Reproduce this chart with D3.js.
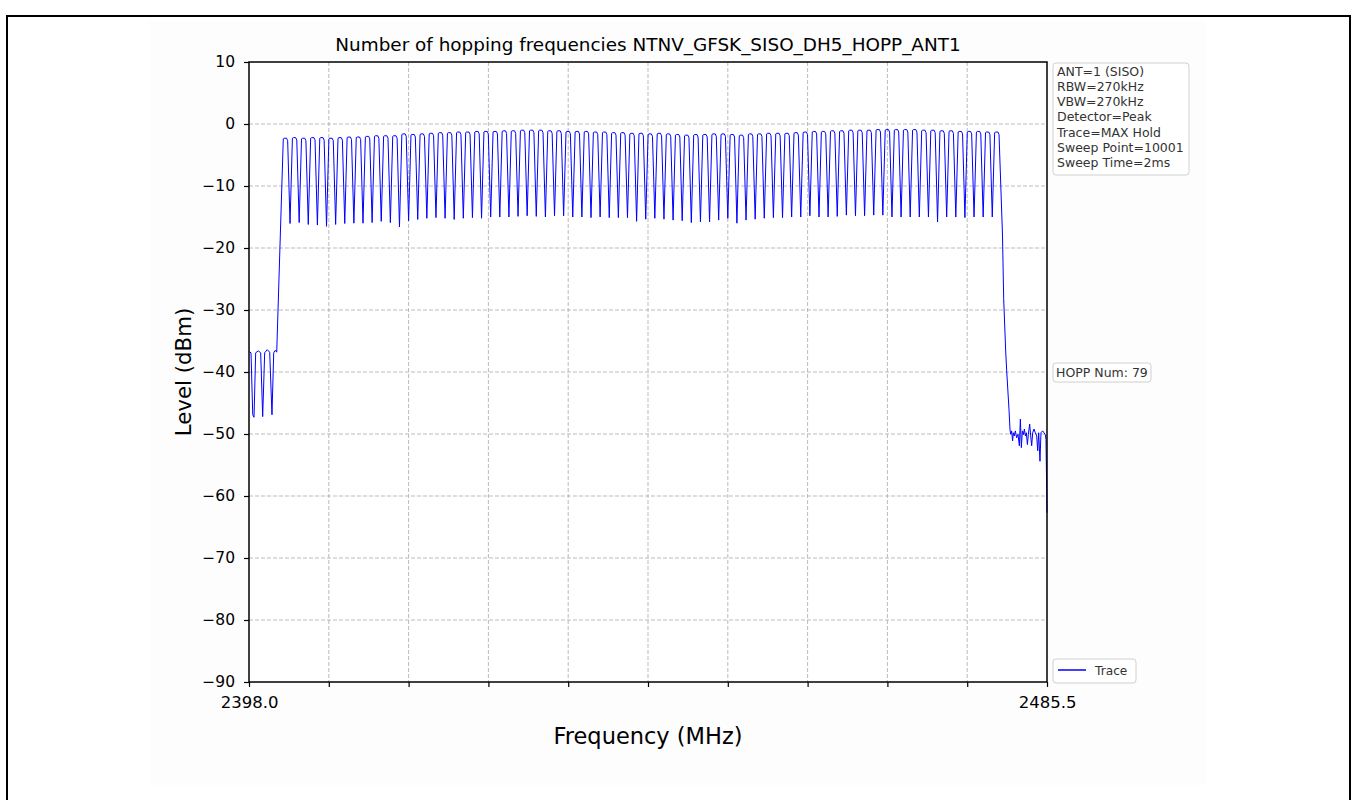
<!DOCTYPE html>
<html>
<head>
<meta charset="utf-8">
<script src="https://cdn.jsdelivr.net/npm/d3@7"></script>
<style>
  html, body { margin: 0; padding: 0; background: #fff; }
  svg { display: block; font-family: "DejaVu Sans", sans-serif; }
</style>
</head>
<body>
<div id="chart"></div>
<script>
// Hopping channels: 79 channels, 1 MHz spacing starting at 2402 MHz
const firstChannel = 2402;
const peakLevels = [
  -2.3, -2.2, -2.3, -2.2, -2.2, -2.3,
  -2.2, -2.1, -2.1, -2.0, -1.9, -1.9,
  -1.9, -1.6, -1.7, -1.6, -1.5, -1.4,
  -1.4, -1.3, -1.3, -1.2, -1.2, -1.2,
  -1.1, -1.1, -1.0, -1.0, -1.0, -1.1,
  -1.1, -1.2, -1.2, -1.2, -1.3, -1.3,
  -1.4, -1.4, -1.5, -1.5, -1.6, -1.5,
  -1.6, -1.7, -1.8, -1.7, -1.7, -1.6,
  -1.6, -1.7, -1.8, -1.6, -1.6, -1.5,
  -1.5, -1.5, -1.4, -1.3, -1.2, -1.2,
  -1.1, -1.1, -1.0, -1.0, -1.0, -0.9,
  -0.9, -0.9, -0.9, -0.9, -1.0, -1.0,
  -1.1, -1.1, -1.2, -1.2, -1.2, -1.3, -1.3
];
// Minimum between neighbouring channels
const dipLevels = [
  -16.05, -15.9, -16.2, -16.3, -16.5, -16.2, -16.05, -16.0, -16.0, -15.9, -15.7, -15.9, -16.6,
  -15.6, -15.4, -15.2, -15.1, -15.2, -15.4, -15.2, -15.1, -15.2, -15.0, -15.0, -15.0, -14.9,
  -14.8, -14.9, -15.0, -14.8, -14.8, -15.0, -15.0, -15.1, -15.0, -15.1, -15.1, -15.1, -15.7,
  -15.35, -15.2, -15.35, -15.5, -15.6, -15.9, -15.8, -15.8, -15.5, -15.2, -16.0, -15.5, -15.35,
  -15.2, -15.1, -15.1, -15.0, -15.0, -14.8, -15.0, -15.0, -14.9, -14.7, -14.8, -14.8, -14.7,
  -14.7, -15.0, -15.0, -15.0, -15.0, -15.0, -15.8, -15.0, -15.0, -15.1, -15.0, -15.0, -15.0
];
// Band edge below the first channel
const leftFreq = [2398.0, 2398.22, 2398.41, 2398.55, 2398.73, 2399.02, 2399.28, 2399.50,
  2399.72, 2400.0, 2400.27, 2400.52, 2400.71, 2400.88, 2401.04];
const leftLevel = [-36.7, -36.9, -46.9, -47.3, -36.9, -36.6, -36.9, -47.2,
  -36.9, -36.4, -36.8, -46.9, -36.9, -36.5, -36.8];
// Band edge above the last channel
const rightFreq = [2480.62, 2480.75, 2480.97, 2481.08, 2481.33, 2481.44, 2481.51, 2481.62,
  2481.73, 2481.81, 2481.92, 2482.03, 2482.17, 2482.32, 2482.47, 2482.58, 2482.69, 2482.80,
  2482.91, 2483.02, 2483.13, 2483.24, 2483.35, 2483.45, 2483.60, 2483.71, 2483.82, 2483.93,
  2484.07, 2484.22, 2484.37, 2484.48, 2484.59, 2484.73, 2484.84, 2485.02, 2485.17, 2485.31,
  2485.39, 2485.50];
const rightLevel = [-17.9, -28.2, -36.6, -39.8, -46.0, -49.2, -50.05, -49.5,
  -51.1, -49.8, -50.3, -49.5, -50.6, -50.05, -51.9, -47.6, -52.2, -49.5,
  -50.1, -49.2, -50.3, -49.8, -51.7, -50.1, -48.4, -50.3, -51.9, -49.8,
  -49.2, -49.8, -50.3, -52.7, -49.8, -54.4, -49.8, -49.5, -49.8, -50.1,
  -50.9, -62.7];

const xTickValues = [2398.0, 2406.75, 2415.5, 2424.25, 2433.0, 2441.75, 2450.5, 2459.25, 2468.0, 2476.75, 2485.5];
const xTickLabels = ['2398.0', '', '', '', '', '', '', '', '', '', '2485.5'];
const yTickValues = [10, 0, -10, -20, -30, -40, -50, -60, -70, -80, -90];
const infoLines = ['ANT=1 (SISO)', 'RBW=270kHz', 'VBW=270kHz', 'Detector=Peak',
  'Trace=MAX Hold', 'Sweep Point=10001', 'Sweep Time=2ms'];
const hoppNum = 79;

const W = 1352, H = 800;
const plot = { left: 249, right: 1047, top: 62, bottom: 682 };

const svg = d3.select('#chart').append('svg')
    .attr('width', W).attr('height', H);

// page frame + figure background
svg.append('rect').attr('x', 150).attr('y', 20).attr('width', 1056).attr('height', 765)
    .attr('fill', '#fdfdfd');
svg.append('path')
    .attr('d', `M7,${H} V16 H1350 V${H}`)
    .attr('fill', 'none').attr('stroke', '#000').attr('stroke-width', 2);

const x = d3.scaleLinear().domain([2398.0, 2485.5]).range([plot.left, plot.right]);
const y = d3.scaleLinear().domain([-90, 10]).range([plot.bottom, plot.top]);

svg.append('rect')
    .attr('x', plot.left).attr('y', plot.top)
    .attr('width', plot.right - plot.left).attr('height', plot.bottom - plot.top)
    .attr('fill', '#fff');

// Grid
const grid = svg.append('g').attr('stroke', '#aaa').attr('stroke-width', 0.8)
    .attr('stroke-dasharray', '4,2');
grid.selectAll('line.gx').data(xTickValues.slice(1, -1)).join('line')
    .attr('x1', d => x(d)).attr('x2', d => x(d))
    .attr('y1', plot.top).attr('y2', plot.bottom);
grid.selectAll('line.gy').data(yTickValues.slice(1, -1)).join('line')
    .attr('x1', plot.left).attr('x2', plot.right)
    .attr('y1', d => y(d)).attr('y2', d => y(d));

// Build the trace vertices
const trace = d3.zip(leftFreq, leftLevel);
peakLevels.forEach((p, k) => {
    const f = firstChannel + k;
    trace.push([f - 0.24, p - 0.1], [f - 0.14, p], [f + 0.12, p], [f + 0.24, p - 0.4]);
    if (k < dipLevels.length) trace.push([f + 0.5, dipLevels[k]]);
});
d3.zip(rightFreq, rightLevel).forEach(d => trace.push(d));

const line = d3.line().x(d => x(d[0])).y(d => y(d[1]));
svg.append('path')
    .datum(trace)
    .attr('fill', 'none')
    .attr('stroke', '#0000ff')
    .attr('stroke-width', 1)
    .attr('stroke-linejoin', 'round')
    .attr('d', line);

// Axes
const fmtMinus = d => String(d).replace('-', '\u2212');
const xAxis = svg.append('g')
    .attr('transform', `translate(0,${plot.bottom})`)
    .call(d3.axisBottom(x).tickValues(xTickValues)
        .tickFormat((d, i) => xTickLabels[i]).tickSize(5).tickPadding(9));
const yAxis = svg.append('g')
    .attr('transform', `translate(${plot.left},0)`)
    .call(d3.axisLeft(y).tickValues(yTickValues).tickFormat(fmtMinus).tickSize(5).tickPadding(9));
[xAxis, yAxis].forEach(a => {
    a.select('.domain').remove();
    a.selectAll('.tick line').attr('stroke', '#000').attr('stroke-width', 1.2);
    a.selectAll('.tick text').attr('fill', '#000')
        .attr('font-family', '"DejaVu Sans", sans-serif');
});
xAxis.selectAll('.tick text').attr('font-size', '16.5px');
yAxis.selectAll('.tick text').attr('font-size', '15.5px');

svg.append('rect')
    .attr('x', plot.left).attr('y', plot.top)
    .attr('width', plot.right - plot.left).attr('height', plot.bottom - plot.top)
    .attr('fill', 'none').attr('stroke', '#000').attr('stroke-width', 1.5);

// Titles
svg.append('text')
    .attr('x', (plot.left + plot.right) / 2).attr('y', 51)
    .attr('text-anchor', 'middle').attr('font-size', '18.4px')
    .text('Number of hopping frequencies NTNV_GFSK_SISO_DH5_HOPP_ANT1');
svg.append('text')
    .attr('x', (plot.left + plot.right) / 2).attr('y', 744)
    .attr('text-anchor', 'middle').attr('font-size', '22.5px')
    .text('Frequency (MHz)');
svg.append('text')
    .attr('transform', `translate(191,${(plot.top + plot.bottom) / 2}) rotate(-90)`)
    .attr('text-anchor', 'middle').attr('font-size', '21.3px')
    .text('Level (dBm)');

// Info box
const info = svg.append('g').attr('transform', 'translate(1053,63)');
info.append('rect').attr('width', 136).attr('height', 112).attr('rx', 3)
    .attr('fill', '#fff').attr('stroke', '#d0d0d0');
info.selectAll('text').data(infoLines).join('text')
    .attr('x', 4).attr('y', (d, i) => 12.7 + i * 15.2)
    .attr('font-size', '12.5px').attr('fill', '#333')
    .text(d => d);

// Hop count box
const hop = svg.append('g').attr('transform', 'translate(1053,363)');
hop.append('rect').attr('width', 98).attr('height', 19).attr('rx', 3)
    .attr('fill', '#fff').attr('stroke', '#d0d0d0');
hop.append('text').attr('x', 3).attr('y', 14)
    .attr('font-size', '12.5px').attr('fill', '#333')
    .text(`HOPP Num: ${hoppNum}`);

// Legend
const legend = svg.append('g').attr('transform', 'translate(1053,659)');
legend.append('rect').attr('width', 83).attr('height', 24).attr('rx', 3)
    .attr('fill', '#fff').attr('stroke', '#d0d0d0');
legend.append('line').attr('x1', 5).attr('x2', 33).attr('y1', 11).attr('y2', 11)
    .attr('stroke', '#0000ff').attr('stroke-width', 1.5);
legend.append('text').attr('x', 42).attr('y', 16)
    .attr('font-size', '12.2px').attr('fill', '#333')
    .text('Trace');
</script>
</body>
</html>
